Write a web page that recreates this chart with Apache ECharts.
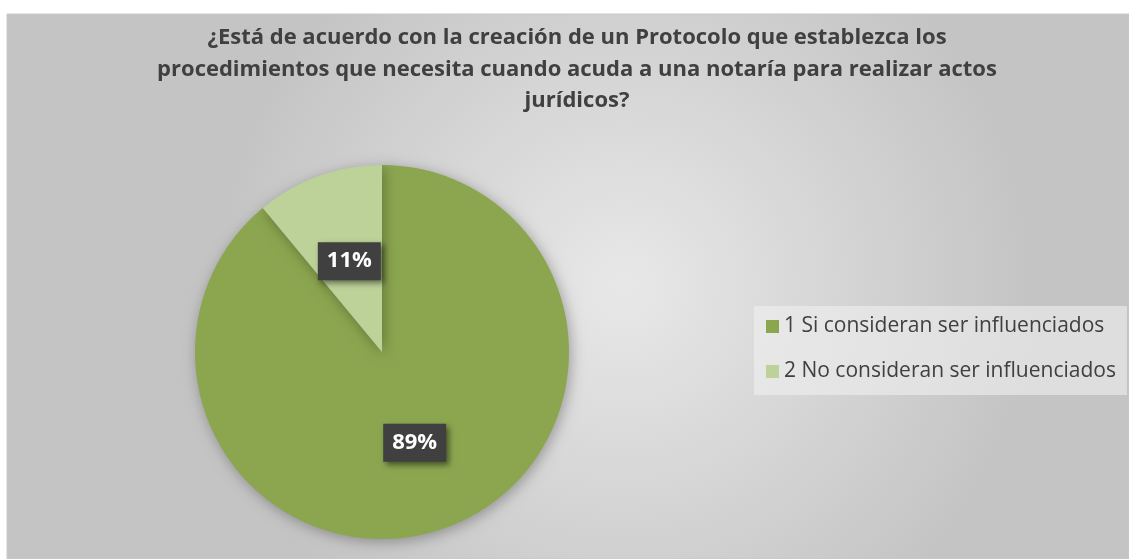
<!DOCTYPE html>
<html><head><meta charset="utf-8">
<script src="https://cdn.jsdelivr.net/npm/echarts@6/dist/echarts.min.js"></script>
<style>html,body{margin:0;padding:0;background:#fff}#c{width:1129px;height:559px}</style>
</head><body><div id="c"></div>
<script>
const titleText = "¿Está de acuerdo con la creación de un Protocolo que establezca los\nprocedimientos que necesita cuando acuda a una notaría para realizar actos\njurídicos?";
const categories = ["1 Si consideran ser influenciados", "2 No consideran ser influenciados"];
const values = [89, 11];
const colors = ["#8BA64F", "#BCD298"];

const chart = echarts.init(document.getElementById('c'), null, {renderer: 'canvas'});
chart.setOption({
  animation: false,
  backgroundColor: '#ffffff',
  graphic: [{
    type: 'rect', z: -10, silent: true,
    shape: {x: 7, y: 14, width: 1122, height: 545},
    style: {
      fill: new echarts.graphic.RadialGradient(0.55, 0.5, 0.75, [
        {offset: 0, color: '#e8e8e8'},
        {offset: 1, color: '#c4c4c4'}
      ]),
      stroke: '#c8c8c8', lineWidth: 1
    }
  }],
  title: {
    text: titleText,
    left: 572, top: 17, textAlign: 'center',
    textStyle: {fontFamily: 'Open Sans', fontWeight: 'bold', fontSize: 22, color: '#404040', lineHeight: 31.5}
  },
  legend: {
    orient: 'vertical',
    left: 754, top: 306,
    itemWidth: 13, itemHeight: 13, itemGap: 24,
    padding: [10, 11, 13, 12],
    backgroundColor: 'rgba(240,240,240,0.6)',
    icon: 'rect',
    data: categories,
    textStyle: {fontFamily: 'Open Sans', fontSize: 21, color: '#404040'}
  },
  series: [{
    type: 'pie',
    center: [382, 352],
    radius: [0, 187],
    startAngle: 90,
    clockwise: true,
    data: categories.map((c, i) => ({name: c, value: values[i], itemStyle: {color: colors[i]}})),
    itemStyle: {shadowBlur: 14, shadowColor: 'rgba(0,0,0,0.3)', shadowOffsetX: 2, shadowOffsetY: 3},
    label: {
      show: true, position: 'inside',
      formatter: p => p.value + '%',
      fontFamily: 'Open Sans', fontWeight: 'bold', fontSize: 22, color: '#ffffff',
      backgroundColor: '#404040',
      padding: [9, 9, 7, 9],
      shadowBlur: 6, shadowColor: 'rgba(0,0,0,0.5)', shadowOffsetX: 3, shadowOffsetY: 3
    },
    labelLine: {show: false},
    emphasis: {disabled: true}
  }]
});
</script>
</body></html>
